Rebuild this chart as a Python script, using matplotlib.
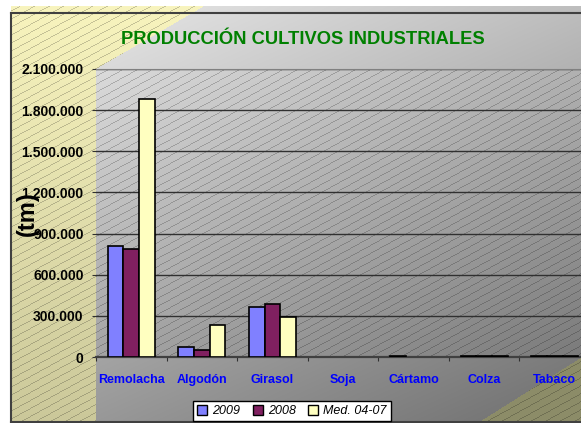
import matplotlib
matplotlib.use('Agg')
import matplotlib.pyplot as plt
import numpy as np
from matplotlib.patches import Patch

# datos (t)
cultivos = ['Remolacha', 'Algodón', 'Girasol', 'Soja', 'Cártamo', 'Colza', 'Tabaco']
prod_2009 = [810000, 73000, 367000, 0, 9000, 10000, 10000]
prod_2008 = [787000, 51000, 386000, 0, 0, 10000, 10000]
prod_med = [1883000, 233000, 289000, 0, 0, 10000, 10000]
series = ['2009', '2008', 'Med. 04-07']
colores = ['#8080FF', '#802060', '#FFFFC0']
yticks = [0, 300000, 600000, 900000, 1200000, 1500000, 1800000, 2100000]

W, H = 581, 423
fig = plt.figure(figsize=(W/100, H/100), dpi=100)
fig.patch.set_facecolor('white')

# fondo: degradado amarillo / gris con rayado diagonal (en pixeles)
py, px = np.mgrid[0:H, 0:W].astype(float)
img = np.ones((H, W, 3))
t = (py - 6) / (H - 6)
yel = np.stack([248 - 45*t, 244 - 44*t, 190 - 36*t], axis=-1) / 255.
g = np.clip(240 - 0.085*px - 0.19*py, 95, 240)
gray = np.stack([g, g, g], axis=-1) / 255.
olive = np.array([140, 140, 104]) / 255.

zona = (px >= 11) & (py >= 6)
amarillo = zona & ((px < 96) | ((py < 69) & (px + 1.72*(py - 6) < 203)))
oliva = zona & (px + 1.58*py > 1145)
gris = zona & ~amarillo & ~oliva
img[gris] = gray[gris]
img[amarillo] = yel[amarillo]
img[oliva] = olive
plot_rect = (px >= 96) & (py >= 69) & (py <= 357)
rayado = (amarillo | oliva | (plot_rect & zona)) & (np.mod(py + 0.55*px, 8) < 1.0)
img[rayado] = img[rayado] * 0.8

ax_bg = fig.add_axes([0, 0, 1, 1])
ax_bg.imshow(img, extent=(0, W, H, 0), aspect='auto', interpolation='nearest')
ax_bg.plot([11, W], [13, 13], color='#404040', lw=1.5)
ax_bg.plot([11, 11], [13, H], color='#404040', lw=1.5)
ax_bg.plot([11, W], [422, 422], color='#404040', lw=1.5)
ax_bg.set_xlim(0, W)
ax_bg.set_ylim(H, 0)
ax_bg.axis('off')

# grafico principal
ax = fig.add_axes([96/W, (H-357)/H, 494/W, 288/H])
ax.patch.set_visible(False)
x = np.arange(len(cultivos))
w = 0.222
handles = []
for i, (vals, col, lab) in enumerate(zip([prod_2009, prod_2008, prod_med], colores, series)):
    v = np.array(vals)
    m = v > 0
    ax.bar(x[m] + (i-1)*w, v[m], width=w, color=col, edgecolor='black', lw=1.2, zorder=3)
    handles.append(Patch(facecolor=col, edgecolor='black', lw=1, label=lab))

ax.set_xlim(-0.5, len(cultivos) - 0.5)
ax.set_ylim(0, 2100000)
ax.set_yticks(yticks)
ax.set_yticklabels(['{:,}'.format(v).replace(',', '.') for v in yticks],
                   fontfamily='Liberation Sans', fontweight='bold', fontsize=10)
ax.yaxis.grid(True, color='#303030', lw=1)
ax.set_axisbelow(True)
ax.tick_params(axis='y', length=3, pad=6, color='#303030')

ax.set_xticks(np.arange(-0.5, len(cultivos)), labels=[])
ax.set_xticks(x, minor=True)
ax.set_xticklabels(cultivos, minor=True, color='#0000FF', fontfamily='Liberation Sans',
                   fontweight='bold', fontsize=9)
ax.tick_params(axis='x', which='major', length=3, color='#303030')
ax.tick_params(axis='x', which='minor', length=0, pad=12)

for s in ['left', 'right']:
    ax.spines[s].set_visible(False)
ax.spines['top'].set_color('#808080')
ax.spines['bottom'].set_color('#404040')
ax.spines['bottom'].set_linewidth(1.6)
ax.spines['bottom'].set_zorder(2.5)

fig.text(303/W, 1 - 40/H, 'PRODUCCIÓN CULTIVOS INDUSTRIALES', color='#008000',
         fontfamily='Liberation Sans', fontweight='bold', fontsize=13.2,
         ha='center', va='center')
fig.text(27/W, 1 - 214/H, '(tm)', rotation=90, fontfamily='Liberation Sans',
         fontweight='bold', fontsize=17, ha='center', va='center')

leg = fig.legend(handles=handles, loc='center', bbox_to_anchor=(292/W, 1 - 411/H), ncol=3,
                 prop={'family': 'Liberation Sans', 'style': 'italic', 'size': 9},
                 frameon=True, fancybox=False, edgecolor='black', framealpha=1,
                 handlelength=0.8, handleheight=0.8, handletextpad=0.4,
                 columnspacing=1.0, borderpad=0.35)
leg.get_frame().set_linewidth(1)

fig.savefig('out.png', dpi=100)
